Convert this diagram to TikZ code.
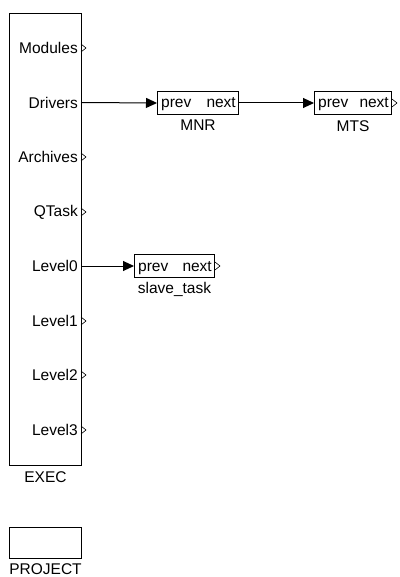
\documentclass[tikz,border=0pt]{standalone}
\usepackage{fontspec}
\setmainfont{Liberation Sans}
\usetikzlibrary{positioning, arrows.meta}

\tikzset{
    blk/.style={draw, line width=1pt, inner sep=0pt, anchor=north west},
    txt/.style={inner sep=0pt, font=\fontsize{15.5}{18}\selectfont},
    link/.style={line width=1pt, -{Triangle[length=11pt, width=10pt]}},
    openport/.style={line width=0.6pt}
}

\begin{document}
\begin{tikzpicture}[x=1pt, y=-1pt]
    \useasboundingbox (0,0) rectangle (399,577);

    % Blocs principaux
    \node[blk, minimum width=72, minimum height=452] (exec) at (9,13) {};
    \node[txt, below=5pt of exec] (execname) {EXEC};
    \node[blk, minimum width=72, minimum height=31] (project) at (9,527) {};
    \node[txt, below=4pt of project] (projectname) {PROJECT};

    % Ports de sortie de EXEC
    \foreach \name/\y in {Modules/48, Drivers/102.5, Archives/157, QTask/212,
                          Level0/266, Level1/321, Level2/375, Level3/430} {
        \node[txt, anchor=east] (p\name) at (78,\y) {\name};
        \coordinate (o\name) at (81,\y);
    }
    \foreach \name in {Modules, Archives, QTask, Level1, Level2, Level3} {
        \draw[openport] ([yshift=-4pt]o\name) -- ++(5,-4) -- ++(-5,-4);
    }

    % Taches
    \node[blk, minimum width=81, minimum height=23] (mnr) at (157,91) {};
    \node[txt, anchor=base west] (mnrprev) at ([xshift=4pt, yshift=-5pt]mnr.west) {prev};
    \node[txt, anchor=base east] (mnrnext) at ([xshift=-3pt, yshift=-5pt]mnr.east) {next};
    \node[txt, below=5pt of mnr] (mnrname) {MNR};

    \node[blk, minimum width=77, minimum height=23] (mts) at (314,91) {};
    \node[txt, anchor=base west] (mtsprev) at ([xshift=4pt, yshift=-5pt]mts.west) {prev};
    \node[txt, anchor=base east] (mtsnext) at ([xshift=-3pt, yshift=-5pt]mts.east) {next};
    \node[txt, below=5pt of mts] (mtsname) {MTS};

    \node[blk, minimum width=80, minimum height=23] (slave) at (134,254) {};
    \node[txt, anchor=base west] (slaveprev) at ([xshift=4pt, yshift=-5pt]slave.west) {prev};
    \node[txt, anchor=base east] (slavenext) at ([xshift=-3pt, yshift=-5pt]slave.east) {next};
    \node[txt, below=4pt of slave] (slavename) {slave\_task};

    \draw[openport] ([yshift=-4pt]mts.east) -- ++(5,-4) -- ++(-5,-4);
    \draw[openport] ([yshift=-4pt]slave.east) -- ++(5,-4) -- ++(-5,-4);

    % Liaisons
    \draw[link] (oDrivers) -- (mnr.west);
    \draw[link] (mnr.east) -- (mts.west);
    \draw[link] (oLevel0) -- (slave.west);
\end{tikzpicture}
\end{document}
